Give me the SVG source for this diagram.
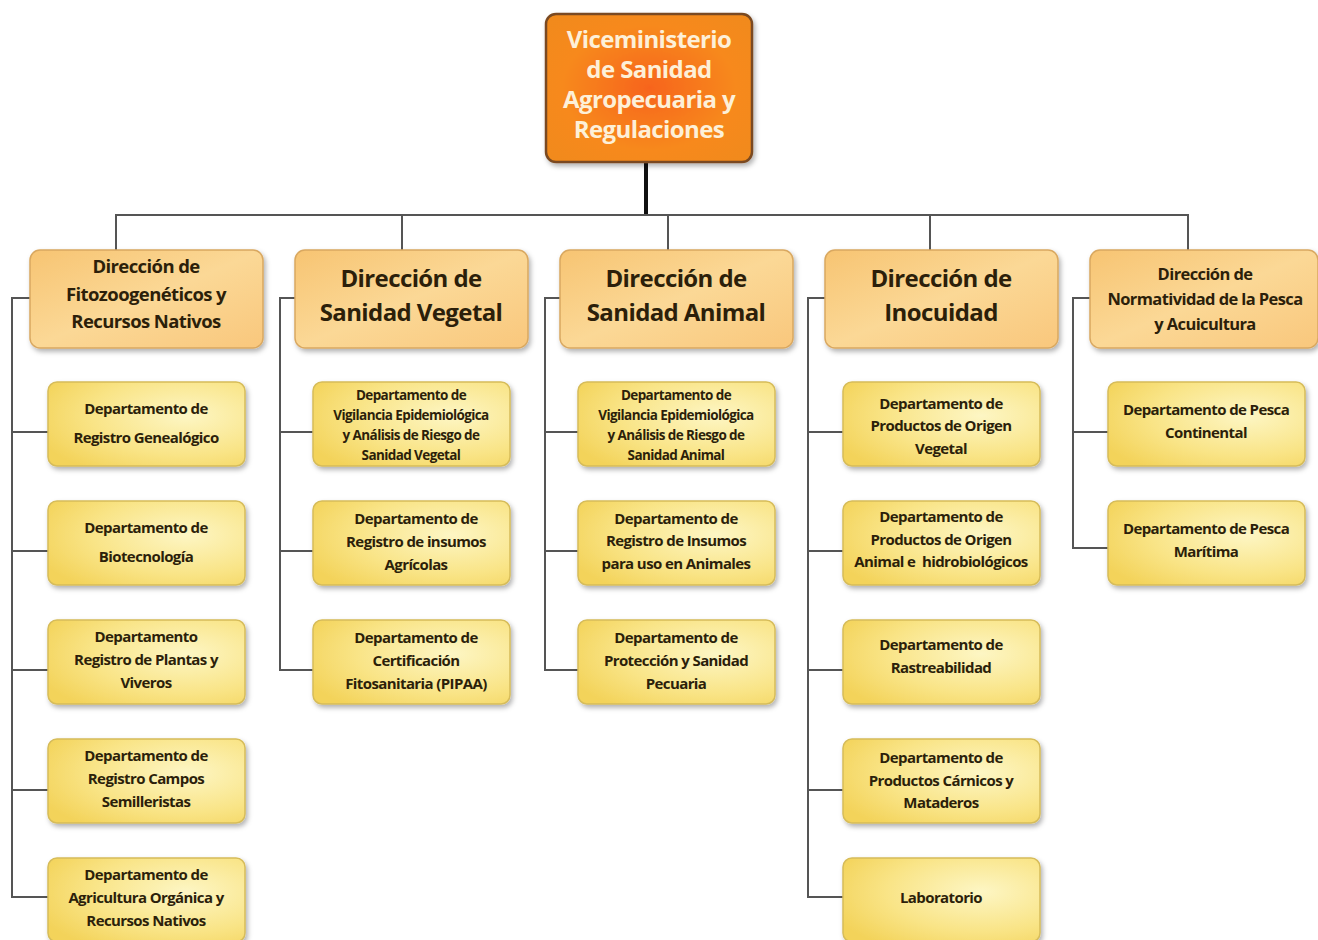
<svg xmlns="http://www.w3.org/2000/svg" width="1318" height="940" viewBox="0 0 1318 940">
<defs>
<radialGradient id="gTop" cx="0.5" cy="0.5" r="0.7">
<stop offset="0" stop-color="#f7641a"/>
<stop offset="0.6" stop-color="#f7891f"/>
<stop offset="1" stop-color="#f08a1c"/>
</radialGradient>
<linearGradient id="gDir" x1="0" y1="0" x2="1" y2="1">
<stop offset="0" stop-color="#f7c472"/>
<stop offset="0.5" stop-color="#fbd896"/>
<stop offset="1" stop-color="#f9c77c"/>
</linearGradient>
<radialGradient id="gDep" cx="0.7" cy="0.4" r="0.8">
<stop offset="0" stop-color="#fdf6c4"/>
<stop offset="0.6" stop-color="#f9e486"/>
<stop offset="1" stop-color="#f3d35a"/>
</radialGradient>
<filter id="sh" x="-10%" y="-10%" width="125%" height="130%">
<feDropShadow dx="2" dy="3" stdDeviation="2.5" flood-color="#000" flood-opacity="0.3"/>
</filter>
</defs>
<style>
.top{fill:url(#gTop);stroke:#7a4a20;stroke-width:2.5;filter:url(#sh)}
.dir{fill:url(#gDir);stroke:#d9a860;stroke-width:1.5;filter:url(#sh)}
.dep{fill:url(#gDep);stroke:#d6bc5a;stroke-width:1.5;filter:url(#sh)}
text{font-family:"Open Sans","Liberation Sans",sans-serif;font-weight:bold;text-anchor:middle;fill:#2c1f0a;white-space:pre}
.tt{fill:#fdf0d8;font-size:24px;letter-spacing:-0.6px}
.d1{font-size:24px;letter-spacing:-0.6px}
.d2{font-size:18.5px;letter-spacing:-0.6px}
.d3{font-size:16.5px;letter-spacing:-0.6px}
.p{font-size:15px;letter-spacing:-0.6px}
.p4{font-size:13.5px;letter-spacing:-0.6px}
.ln{stroke:#555;stroke-width:2;fill:none}
</style>
<g id="connectors">
<line x1="646" y1="162" x2="646" y2="215" stroke="#111" stroke-width="4"/>
<path class="ln" d="M116 250V215H1188V250M402 215V250M668 215V250M930 215V250"/>
<path class="ln" d="M30 298H12V897H48M12 432H48M12 551H48M12 670H48M12 790H48"/>
<path class="ln" d="M295 298H280V670H313M280 432H313M280 551H313"/>
<path class="ln" d="M560 298H545V670H578M545 432H578M545 551H578"/>
<path class="ln" d="M825 298H808V897H843M808 432H843M808 551H843M808 670H843M808 790H843"/>
<path class="ln" d="M1090 298H1073V548H1108M1073 432H1108"/>
</g>
<g id="vice">
<rect class="top" x="546" y="14" width="206" height="148" rx="10"/>
<text class="tt" x="649" y="48">Viceministerio</text>
<text class="tt" x="649" y="78">de Sanidad</text>
<text class="tt" x="649" y="108">Agropecuaria y</text>
<text class="tt" x="649" y="138">Regulaciones</text>
</g>
<g id="dir1">
<rect class="dir" x="30" y="250" width="233" height="98" rx="10"/>
<text class="d2" x="146" y="273">Dirección de</text>
<text class="d2" x="146" y="301">Fitozoogenéticos y</text>
<text class="d2" x="146" y="328">Recursos Nativos</text>
</g>
<g id="dir2">
<rect class="dir" x="295" y="250" width="233" height="98" rx="10"/>
<text class="d1" x="411" y="287">Dirección de</text>
<text class="d1" x="411" y="321">Sanidad Vegetal</text>
</g>
<g id="dir3">
<rect class="dir" x="560" y="250" width="233" height="98" rx="10"/>
<text class="d1" x="676" y="287">Dirección de</text>
<text class="d1" x="676" y="321">Sanidad Animal</text>
</g>
<g id="dir4">
<rect class="dir" x="825" y="250" width="233" height="98" rx="10"/>
<text class="d1" x="941" y="287">Dirección de</text>
<text class="d1" x="941" y="321">Inocuidad</text>
</g>
<g id="dir5">
<rect class="dir" x="1090" y="250" width="228" height="98" rx="10"/>
<text class="d3" x="1205" y="280">Dirección de</text>
<text class="d3" x="1205" y="305">Normatividad de la Pesca</text>
<text class="d3" x="1205" y="330">y Acuicultura</text>
</g>
<g id="c1r1">
<rect class="dep" x="48" y="382" width="197" height="84" rx="9"/>
<text class="p" x="146" y="414">Departamento de</text>
<text class="p" x="146" y="443">Registro Genealógico</text>
</g>
<g id="c1r2">
<rect class="dep" x="48" y="501" width="197" height="84" rx="9"/>
<text class="p" x="146" y="533">Departamento de</text>
<text class="p" x="146" y="562">Biotecnología</text>
</g>
<g id="c1r3">
<rect class="dep" x="48" y="620" width="197" height="84" rx="9"/>
<text class="p" x="146" y="642">Departamento</text>
<text class="p" x="146" y="665">Registro de Plantas y</text>
<text class="p" x="146" y="688">Viveros</text>
</g>
<g id="c1r4">
<rect class="dep" x="48" y="739" width="197" height="84" rx="9"/>
<text class="p" x="146" y="761">Departamento de</text>
<text class="p" x="146" y="784">Registro Campos</text>
<text class="p" x="146" y="807">Semilleristas</text>
</g>
<g id="c1r5">
<rect class="dep" x="48" y="858" width="197" height="84" rx="9"/>
<text class="p" x="146" y="880">Departamento de</text>
<text class="p" x="146" y="903">Agricultura Orgánica y</text>
<text class="p" x="146" y="926">Recursos Nativos</text>
</g>
<g id="c2r1">
<rect class="dep" x="313" y="382" width="197" height="84" rx="9"/>
<text class="p4" x="411" y="400">Departamento de</text>
<text class="p4" x="411" y="420">Vigilancia Epidemiológica</text>
<text class="p4" x="411" y="440">y Análisis de Riesgo de</text>
<text class="p4" x="411" y="460">Sanidad Vegetal</text>
</g>
<g id="c2r2">
<rect class="dep" x="313" y="501" width="197" height="84" rx="9"/>
<text class="p" x="416" y="524">Departamento de</text>
<text class="p" x="416" y="547">Registro de insumos</text>
<text class="p" x="416" y="570">Agrícolas</text>
</g>
<g id="c2r3">
<rect class="dep" x="313" y="620" width="197" height="84" rx="9"/>
<text class="p" x="416" y="643">Departamento de</text>
<text class="p" x="416" y="666">Certificación</text>
<text class="p" x="416" y="689">Fitosanitaria (PIPAA)</text>
</g>
<g id="c3r1">
<rect class="dep" x="578" y="382" width="197" height="84" rx="9"/>
<text class="p4" x="676" y="400">Departamento de</text>
<text class="p4" x="676" y="420">Vigilancia Epidemiológica</text>
<text class="p4" x="676" y="440">y Análisis de Riesgo de</text>
<text class="p4" x="676" y="460">Sanidad Animal</text>
</g>
<g id="c3r2">
<rect class="dep" x="578" y="501" width="197" height="84" rx="9"/>
<text class="p" x="676" y="524">Departamento de</text>
<text class="p" x="676" y="546">Registro de Insumos</text>
<text class="p" x="676" y="569">para uso en Animales</text>
</g>
<g id="c3r3">
<rect class="dep" x="578" y="620" width="197" height="84" rx="9"/>
<text class="p" x="676" y="643">Departamento de</text>
<text class="p" x="676" y="666">Protección y Sanidad</text>
<text class="p" x="676" y="689">Pecuaria</text>
</g>
<g id="c4r1">
<rect class="dep" x="843" y="382" width="197" height="84" rx="9"/>
<text class="p" x="941" y="409">Departamento de</text>
<text class="p" x="941" y="431">Productos de Origen</text>
<text class="p" x="941" y="454">Vegetal</text>
</g>
<g id="c4r2">
<rect class="dep" x="843" y="501" width="197" height="84" rx="9"/>
<text class="p" x="941" y="522">Departamento de</text>
<text class="p" x="941" y="545">Productos de Origen</text>
<text class="p" x="941" y="567">Animal e  hidrobiológicos</text>
</g>
<g id="c4r3">
<rect class="dep" x="843" y="620" width="197" height="84" rx="9"/>
<text class="p" x="941" y="650">Departamento de</text>
<text class="p" x="941" y="673">Rastreabilidad</text>
</g>
<g id="c4r4">
<rect class="dep" x="843" y="739" width="197" height="84" rx="9"/>
<text class="p" x="941" y="763">Departamento de</text>
<text class="p" x="941" y="786">Productos Cárnicos y</text>
<text class="p" x="941" y="808">Mataderos</text>
</g>
<g id="c4r5">
<rect class="dep" x="843" y="858" width="197" height="84" rx="9"/>
<text class="p" x="941" y="903">Laboratorio</text>
</g>
<g id="c5r1">
<rect class="dep" x="1108" y="382" width="197" height="84" rx="9"/>
<text class="p" x="1206" y="415">Departamento de Pesca</text>
<text class="p" x="1206" y="438">Continental</text>
</g>
<g id="c5r2">
<rect class="dep" x="1108" y="501" width="197" height="84" rx="9"/>
<text class="p" x="1206" y="534">Departamento de Pesca</text>
<text class="p" x="1206" y="557">Marítima</text>
</g>
</svg>
